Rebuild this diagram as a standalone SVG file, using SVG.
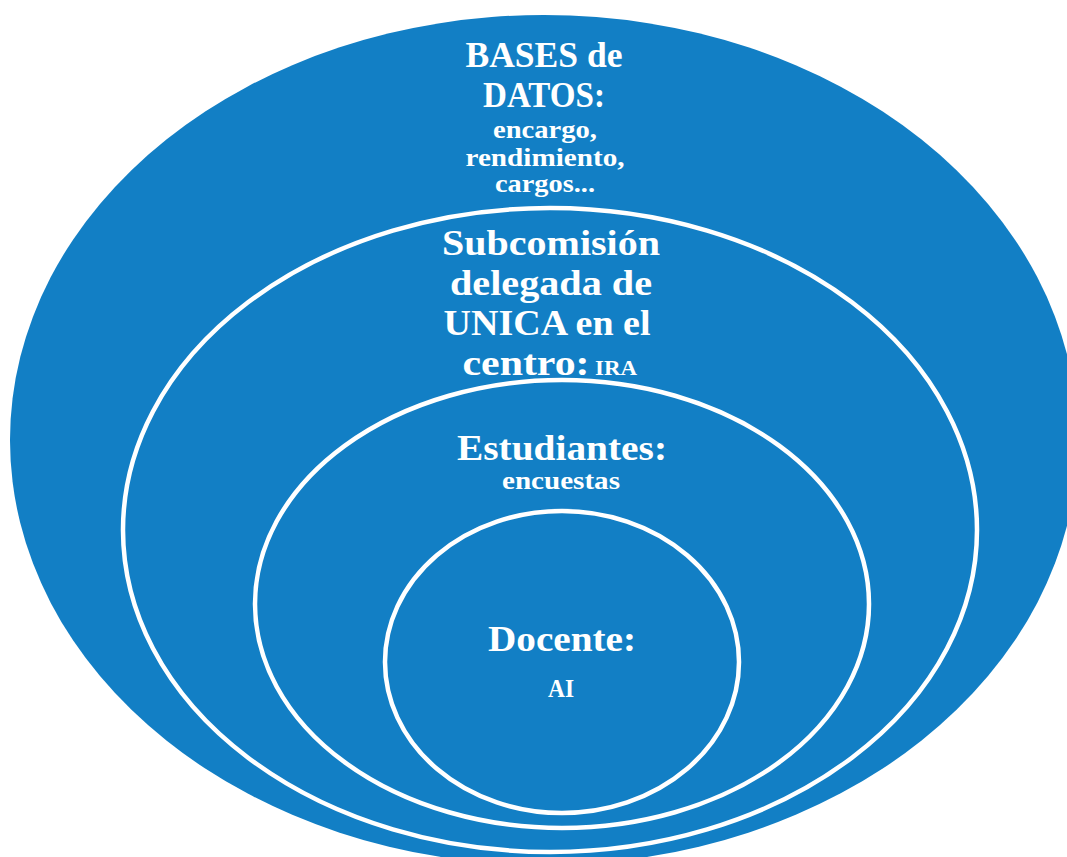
<svg xmlns="http://www.w3.org/2000/svg" width="1067" height="857" viewBox="0 0 1067 857">
<style>
.ring{fill:#127FC5;stroke:#FFFFFF;stroke-width:4.5}
.outer{fill:#127FC5;stroke:none}
text{font-family:"Liberation Serif","Times New Roman",serif;font-weight:bold;fill:#FFFFFF;text-anchor:middle}
.big{font-size:36px}
.small{font-size:25px}
.ira{font-size:21px}
</style>
<rect width="1067" height="857" fill="#FFFFFF"/>
<g id="bases-datos">
<ellipse class="outer" cx="544" cy="440" rx="534" ry="425"/>
<text class="big" x="544" y="67" textLength="157" lengthAdjust="spacingAndGlyphs">BASES de</text>
<text class="big" x="544" y="107" textLength="122" lengthAdjust="spacingAndGlyphs">DATOS:</text>
<text class="small" x="545" y="138" textLength="104" lengthAdjust="spacingAndGlyphs">encargo,</text>
<text class="small" x="545" y="166" textLength="159" lengthAdjust="spacingAndGlyphs">rendimiento,</text>
<text class="small" x="545" y="192" textLength="100" lengthAdjust="spacingAndGlyphs">cargos...</text>
</g>
<g id="subcomision">
<ellipse class="ring" cx="550" cy="530" rx="427" ry="322"/>
<text class="big" x="551" y="255" textLength="218" lengthAdjust="spacingAndGlyphs">Subcomisión</text>
<text class="big" x="551" y="295" textLength="202" lengthAdjust="spacingAndGlyphs">delegada de</text>
<text class="big" x="547" y="335" textLength="207" lengthAdjust="spacingAndGlyphs">UNICA en el</text>
<text class="big" x="526" y="375" textLength="127" lengthAdjust="spacingAndGlyphs">centro:</text>
<text class="ira" x="616" y="375" textLength="42" lengthAdjust="spacingAndGlyphs">IRA</text>
</g>
<g id="estudiantes">
<ellipse class="ring" cx="562" cy="604" rx="307" ry="224"/>
<text class="big" x="562" y="460" textLength="210" lengthAdjust="spacingAndGlyphs">Estudiantes:</text>
<text class="small" x="561" y="489" textLength="118" lengthAdjust="spacingAndGlyphs">encuestas</text>
</g>
<g id="docente">
<ellipse class="ring" cx="562" cy="662" rx="177" ry="151"/>
<text class="big" x="562" y="651" textLength="148" lengthAdjust="spacingAndGlyphs">Docente:</text>
<text class="small" x="561" y="697" textLength="26" lengthAdjust="spacingAndGlyphs">AI</text>
</g>
<g id="connectors"/>
</svg>
